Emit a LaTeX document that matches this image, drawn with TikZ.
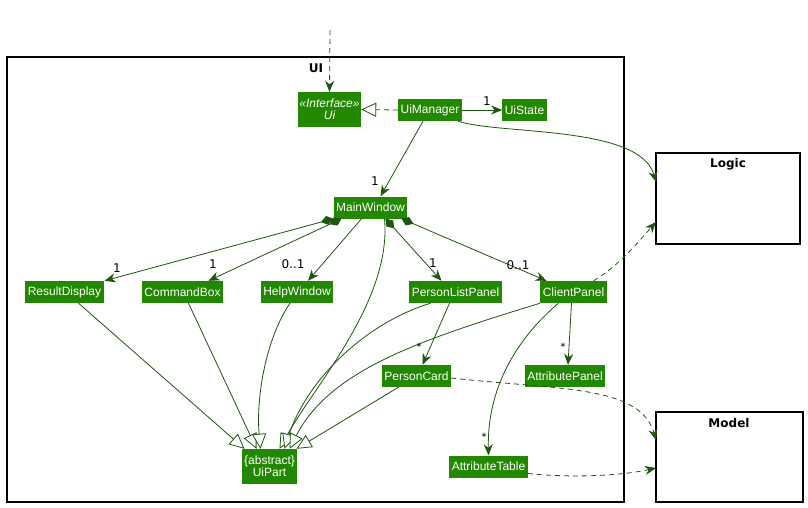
\documentclass[tikz,border=0pt]{standalone}
\usepackage{fontspec}
\setmainfont{Liberation Sans}
\newfontfamily\djv{DejaVu Sans}
\usetikzlibrary{arrows.meta,calc}
\definecolor{boxgreen}{RGB}{34,136,0}
\definecolor{edgegreen}{RGB}{30,85,15}
\begin{document}
\begin{tikzpicture}[x=1pt,y=1pt,
  cls/.style={fill=boxgreen,text=white,inner sep=2.5pt,minimum height=22pt,font=\fontsize{12}{14}\selectfont,align=center},
  pkg/.style={draw=black,line width=1.2pt,fill=white},
  pkgtitle/.style={font=\djv\bfseries\fontsize{12}{14}\selectfont},
  link/.style={draw=edgegreen,line width=0.8pt},
  assoc/.style={link,-{Stealth[length=11pt,width=9pt,inset=3.5pt]}},
  comp/.style={link,{Diamond[length=13pt,width=9pt]}-{Stealth[length=11pt,width=9pt,inset=3.5pt]}},
  inherit/.style={link,-{Triangle[open,length=15pt,width=14pt,fill=white]}},
  dep/.style={link,dash pattern=on 5pt off 4pt,-{Stealth[length=11pt,width=9pt,inset=3.5pt]}},
  realize/.style={link,dash pattern=on 5pt off 4pt,-{Triangle[open,length=15pt,width=14pt,fill=white]}},
  mult/.style={font=\djv\fontsize{12}{14}\selectfont,inner sep=0pt},
  star/.style={font=\djv\fontsize{10}{12}\selectfont,inner sep=0pt}]
\useasboundingbox (0,0) rectangle (808,-508);

% packages
\draw[pkg] (7,-57) rectangle (624,-502);
\node[pkgtitle] (uititle) at (316,-68) {UI};
\draw[pkg] (656,-153) rectangle (800,-244);
\node[pkgtitle] (logic) at (728,-164) {Logic};
\draw[pkg] (656,-412) rectangle (803,-502);
\node[pkgtitle] (model) at (729,-423) {Model};
\coordinate (logicA) at (656,-182);
\coordinate (logicB) at (656,-222);
\coordinate (modelA) at (656,-440);
\coordinate (modelB) at (656,-468);
\coordinate (topin) at (330,-30);

% classes
\node[cls,minimum width=63pt,minimum height=35pt,inner sep=1pt] (ui) at (329.5,-109.5) {\itshape «Interface»\\[-2pt]\itshape Ui};
\node[cls] (uim) at (430,-110) {UiManager};
\node[cls] (uis) at (524.5,-110) {UiState};
\node[cls] (mw) at (370.5,-207.5) {MainWindow};
\node[cls] (rd) at (64.5,-292) {ResultDisplay};
\node[cls] (cb) at (182.5,-292) {CommandBox};
\node[cls] (hw) at (297,-292) {HelpWindow};
\node[cls] (plp) at (455.5,-292) {PersonListPanel};
\node[cls] (cp) at (573.5,-292) {ClientPanel};
\node[cls] (pc) at (416.5,-376) {PersonCard};
\node[cls] (ap) at (565,-376) {AttributePanel};
\node[cls] (at) at (488.5,-466.5) {AttributeTable};
\node[cls,minimum width=55pt,minimum height=35pt,inner sep=1pt] (up) at (269.5,-466.5) {\{abstract\}\\[-2pt]UiPart};

% edges
\draw[dep] (topin) -- (ui.north);
\draw[realize] (uim.west) -- (ui.east);
\draw[assoc] (uim.east) -- (uis.west);
\node[mult] (l1) at (487,-101) {1};
\draw[assoc] ([xshift=28pt]uim.south) .. controls (500,-135) and (640,-125) .. (logicA);
\draw[assoc] ([xshift=-7pt]uim.south) -- ([xshift=10pt]mw.north);
\node[mult] (l2) at (375,-181) {1};

\draw[comp] ([xshift=-37pt]mw.south) -- ([xshift=40pt]rd.north);
\node[mult] (l3) at (117,-268) {1};
\draw[comp] ([xshift=-29pt]mw.south) -- ([xshift=26pt]cb.north);
\node[mult] (l4) at (213,-264) {1};
\draw[assoc] ([xshift=-9pt]mw.south) -- ([xshift=11pt]hw.north);
\node[mult] (l5) at (293,-264) {0..1};
\draw[comp] ([xshift=15pt]mw.south) -- ([xshift=-14pt]plp.north);
\node[mult] (l6) at (433,-263) {1};
\draw[comp] ([xshift=31pt]mw.south) -- ([xshift=-27pt]cp.north);
\node[mult] (l7) at (518,-265) {0..1};

\draw[inherit] ([xshift=14pt]mw.south) .. controls (392,-300) and (315,-385) .. ([xshift=10pt]up.north);
\draw[inherit] ([xshift=14pt]rd.south) -- ([xshift=-25pt]up.north);
\draw[inherit] ([xshift=6pt]cb.south) -- ([xshift=-13pt]up.north);
\draw[inherit] ([xshift=-7pt]hw.south) .. controls (265,-340) and (256,-400) .. ([xshift=-9pt]up.north);
\draw[inherit] ([xshift=-25pt]plp.south) .. controls (360,-325) and (305,-385) .. ([xshift=15pt]up.north);
\draw[inherit] (cp.south west) .. controls (420,-340) and (330,-370) .. ([xshift=20pt]up.north);
\draw[inherit] ([xshift=-18pt]pc.south) -- ([xshift=27pt]up.north);

\draw[assoc] ([xshift=-6pt]plp.south) -- ([xshift=6pt]pc.north);
\node[star] (l8) at (419,-347) {*};
\draw[assoc] ([xshift=-2pt]cp.south) -- ([xshift=3pt]ap.north);
\node[star] (l9) at (563,-347) {*};
\draw[assoc] ([xshift=-15pt]cp.south) .. controls (515,-340) and (487,-390) .. (at.north);
\node[star] (l10) at (484,-437) {*};

\draw[dep] ([xshift=20pt]cp.north) .. controls (620,-265) and (640,-240) .. (logicB);
\draw[dep] ([yshift=-2pt]pc.east) .. controls (560,-390) and (640,-385) .. (modelA);
\draw[dep] ([yshift=-7pt]at.east) .. controls (570,-478) and (620,-476) .. (modelB);
\end{tikzpicture}
\end{document}
